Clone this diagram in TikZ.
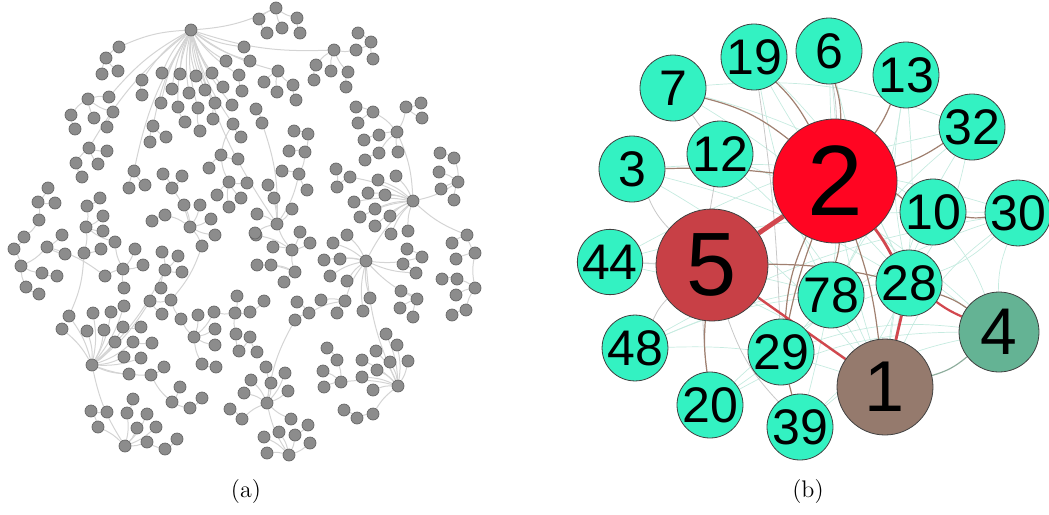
\documentclass[tikz,border=0pt]{standalone}
\usepackage{fontspec}
\newfontfamily\lab{Liberation Sans}
\pgfdeclarelayer{bg}
\pgfsetlayers{bg,main}
\definecolor{gfill}{HTML}{8C8C8C}
\definecolor{gline}{HTML}{666666}
\definecolor{gedge}{HTML}{D4D4D4}
\definecolor{tq}{HTML}{33F2C2}
\definecolor{rednode}{HTML}{FF0522}
\definecolor{fivenode}{HTML}{C84046}
\definecolor{onenode}{HTML}{957A6D}
\definecolor{fournode}{HTML}{64B394}
\definecolor{brn}{HTML}{A08070}
\definecolor{redge}{HTML}{D2474E}
\definecolor{cyedge}{HTML}{C6EBE0}
\definecolor{gyedge}{HTML}{C8C8C8}
\definecolor{gnedge}{HTML}{8FAE9E}
\tikzset{
  gn/.style={circle,fill=gfill,draw=gline,line width=0.35pt,inner sep=0pt,minimum size=6pt},
  ge/.style={draw=gedge,line width=0.5pt},
  tqn/.style={circle,fill=tq,draw=black!75,line width=0.4pt,inner sep=0pt,minimum size=33pt,font=\lab\fontsize{25}{25}\selectfont},
  bign/.style={circle,draw=black!75,line width=0.4pt,inner sep=0pt},
  be/.style={draw=brn,line width=0.6pt},
  re/.style={draw=redge},
  ce/.style={draw=cyedge,line width=0.35pt},
  ye/.style={draw=gyedge,line width=0.4pt},
  captext/.style={font=\fontsize{12}{14}\selectfont},
}
\begin{document}
\begin{tikzpicture}[x=0.5pt,y=-0.5pt]
\useasboundingbox (0,0) rectangle (1049,514);
% ---------------- panel (a) ----------------
\foreach \i/\x/\y in {1/191/30,2/413/201,3/366/261,4/92/365,
5/119/47,6/106/58,7/102/74,8/118/71,9/142/80,10/142/95,11/162/73,12/180/74,13/196/76,14/212/73,15/226/61,16/244/47,17/250/61,18/239/75,19/223/87,20/242/91,
21/172/89,22/189/93,23/205/90,24/215/103,25/232/105,26/161/103,27/178/107,28/198/108,29/213/119,30/185/122,31/200/131,32/233/124,33/241/137,34/153/126,35/166/137,36/150/142,
37/109/97,38/88/99,39/71/115,40/94/118,41/113/112,42/75/129,43/107/127,44/89/148,45/107/151,46/76/163,47/98/164,48/82/177,49/134/171,50/129/188,51/145/185,52/163/174,53/172/188,54/182/176,
55/221/155,56/238/159,57/209/168,58/229/182,59/247/183,60/217/195,61/241/198,62/229/207,63/48/188,64/38/202,65/55/203,66/39/220,67/24/237,68/14/249,69/62/235,70/47/247,71/21/266,72/65/254,73/42/273,74/57/276,75/26/287,76/39/294,
77/87/206,78/100/198,79/86/227,80/103/216,81/103/231,82/84/253,83/101/249,84/115/242,85/123/269,86/135/249,87/143/265,88/124/288,89/105/276,90/165/270,91/162/252,92/178/256,93/182/272,
94/190/227,95/184/205,96/200/205,97/165/215,98/152/221,99/202/246,100/211/219,101/215/235,102/161/288,103/69/316,104/150/301,105/171/300,106/162/314,107/124/306,108/111/312,109/93/313,110/62/329,
111/87/331,112/104/330,113/123/327,114/141/327,115/115/342,116/133/342,117/152/343,118/124/357,119/141/358,120/129/374,121/151/375,122/164/367,123/180/387,124/172/402,125/190/408,126/202/398,
127/181/319,128/194/337,129/198/315,130/214/312,131/215/329,132/215/345,133/202/364,134/216/367,135/237/296,136/235/313,137/250/312,138/236/334,139/239/351,140/250/337,
141/251/380,142/244/393,143/267/403,144/230/409,145/242/419,146/266/367,147/285/373,149/271/383,150/288/391,151/291/419,152/125/446,153/133/399,154/91/411,155/127/413,156/107/412,157/98/427,158/137/428,159/147/414,160/156/427,
161/147/442,162/165/449,163/177/439,164/289/455,165/264/437,166/279/432,167/295/435,168/310/443,169/267/453,170/308/425,
171/256/235,172/273/247,173/292/250,174/300/232,175/310/243,176/277/224,177/257/265,178/271/265,179/295/272,180/284/282,181/324/260,182/340/259,183/333/243,184/347/235,185/330/276,186/347/281,187/391/234,188/408/231,
190/407/249,191/422/257,192/403/264,193/416/273,194/401/291,195/417/299,196/400/308,197/413/317,198/321/300,199/345/301,200/370/298,201/337/313,202/363/311,203/297/302,204/309/313,205/295/320,206/264/301,209/257/352,
210/467/235,211/452/243,212/475/253,213/456/259,214/442/279,215/457/279,216/475/288,217/456/295,218/466/310,219/452/315,
220/386/334,221/397/345,222/327/348,223/398/386,224/337/360,225/362/360,226/376/351,227/390/362,228/408/361,229/323/371,230/341/382,231/362/377,232/377/370,233/324/387,234/373/390,235/344/410,236/357/418,237/373/414,
238/276/8,239/259/19,240/297/18,241/282/28,242/267/33,243/300/33,244/334/50,245/358/33,246/371/42,247/356/50,248/373/59,249/316/65,250/314/80,251/331/71,252/348/72,253/346/87,
254/278/71,255/264/82,256/277/92,257/293/85,258/296/100,259/256/109,260/262/123,261/294/131,262/308/134,263/289/151,264/305/152,265/282/171,266/299/174,267/307/190,268/268/185,269/274/198,270/292/209,271/257/214,272/255/233,
274/356/107,275/373/112,276/358/123,277/406/107,278/397/132,279/421/103,280/422/118,281/379/135,282/364/140,283/379/153,284/398/152,285/365/160,286/336/169,287/350/177,288/337/187,289/378/180,290/396/176,
291/368/193,292/385/195,293/354/202,294/375/209,295/390/216,296/360/217,297/375/226,300/440/153,301/454/158,302/439/172,303/458/182,304/441/189,305/454/200}
  \node[gn] (a\i) at (\x,\y) {};
\begin{pgfonlayer}{bg}
\foreach \c/\p in {5/1,6/5,7/6,8/6,9/1,10/9,11/1,12/1,13/1,14/1,15/1,16/1,17/1,18/1,19/1,20/18,21/1,22/1,23/1,24/1,25/1,26/1,27/1,28/1,29/24,30/27,31/28,32/1,33/32,34/1,35/34,36/34,37/1,38/37,39/38,40/38,41/38,42/39,43/41,44/1,45/44,46/44,47/44,48/46,49/1,50/49,51/49,52/53,53/94,54/53,55/32,56/55,57/55,58/55,59/58,60/58,61/58,62/58,63/64,64/66,65/64,66/67,67/68,68/71,69/70,70/71,72/70,73/71,74/73,75/71,76/75,77/79,78/77,79/82,80/79,81/79,82/103,83/82,84/79,85/84,86/85,87/85,88/85,89/85,70/89,90/4,91/90,92/90,93/90,102/90,94/99,95/94,96/94,97/94,98/97,100/94,101/94,99/105,103/4,104/4,105/104,106/104,107/4,108/4,109/4,110/4,111/4,112/4,113/4,114/113,115/4,116/4,117/116,118/4,119/4,120/4,121/4,122/121,123/124,124/121,125/124,126/125,127/105,128/127,129/128,130/128,131/128,132/128,133/128,134/133,135/136,136/130,137/136,138/136,139/138,140/139,141/143,142/143,143/205,144/145,145/143,146/143,147/143,149/143,150/143,151/143,152/4,153/155,154/157,155/152,156/154,157/152,158/152,159/152,160/152,161/152,162/161,163/162,164/143,165/164,166/164,167/164,168/164,169/164,170/167,171/173,172/173,173/176,174/173,175/173,176/1,177/179,178/179,179/173,180/179,181/3,182/3,183/3,184/3,185/3,186/3,187/2,188/2,190/191,191/3,192/193,193/3,194/195,195/3,196/195,197/195,198/199,199/3,200/3,201/199,202/3,203/204,204/199,205/204,206/137,209/140,210/2,211/210,212/210,213/212,216/212,215/216,214/215,217/216,218/216,219/218,220/223,221/223,222/224,223/3,224/230,225/223,226/223,227/223,228/223,229/230,230/223,231/223,232/223,233/230,234/223,235/236,236/237,237/223,238/1,239/238,240/238,241/238,242/239,243/240,244/1,245/246,246/247,247/244,248/246,249/244,250/249,251/244,252/244,253/252,254/1,255/254,256/254,257/254,258/257,259/260,260/176,261/262,262/264,263/264,264/266,265/266,266/176,267/266,268/176,269/176,270/176,271/176,272/176,274/275,275/278,276/275,277/278,278/2,279/277,280/277,281/278,282/281,283/278,284/278,285/283,286/288,287/2,288/287,289/2,290/2,291/2,292/2,293/2,294/2,295/2,296/2,297/2,300/301,301/303,302/303,303/2,304/303,305/303,3/2}
  \draw[ge] (a\c) to[bend left=10] (a\p);
\end{pgfonlayer}
\node[captext] (capa) at (246,492) {(a)};
% ---------------- panel (b) ----------------
\node[tqn] (b7) at (673,88) {7};
\node[tqn] (b19) at (754,57) {19};
\node[tqn] (b6) at (829,51) {6};
\node[tqn] (b13) at (906,75) {13};
\node[tqn] (b32) at (972,127) {32};
\node[tqn] (b12) at (720,154) {12};
\node[tqn] (b3) at (632,169) {3};
\node[bign,fill=rednode,minimum size=62pt,font=\lab\fontsize{50}{50}\selectfont] (b2) at (835,181) {2};
\node[tqn] (b10) at (933,212) {10};
\node[tqn,minimum size=32pt] (b30) at (1018,213) {30};
\node[bign,fill=fivenode,minimum size=56pt,font=\lab\fontsize{45}{45}\selectfont] (b5) at (712,265) {5};
\node[tqn,minimum size=32pt] (b44) at (610,262) {44};
\node[tqn,minimum size=32pt] (b48) at (635,348) {48};
\node[tqn] (b20) at (710,405) {20};
\node[tqn] (b29) at (781,352) {29};
\node[tqn] (b39) at (800,427) {39};
\node[tqn] (b78) at (831,295) {78};
\node[tqn] (b28) at (909,283) {28};
\node[bign,fill=fournode,minimum size=40pt,font=\lab\fontsize{33}{33}\selectfont] (b4) at (999,332) {4};
\node[bign,fill=onenode,minimum size=48pt,font=\lab\fontsize{36}{36}\selectfont] (b1) at (885,387) {1};
\begin{pgfonlayer}{bg}
% faint cyan arcs
\foreach \u/\v/\b in {b7/b32/12,b3/b30/10,b44/b30/8,b48/b28/10,b20/b28/12,b19/b1/-10,b6/b1/-8,b13/b1/8,b12/b4/10,b44/b1/12,b48/b1/10,b29/b30/12,b39/b4/14,b10/b1/-10,b30/b1/-14,b32/b1/-12,b6/b39/10,b3/b28/8,b7/b10/10,b19/b4/-12,b13/b78/10,b44/b32/8,b48/b30/10,b20/b4/14,b12/b1/12,b3/b1/10,b7/b28/8,b32/b78/-10,b30/b4/-10,b10/b4/8,b13/b28/-10,b32/b28/10,b30/b28/12,b6/b28/-6,b19/b28/10,b29/b4/12,b39/b28/-10,b44/b78/6,b48/b78/8,b20/b78/-8}
  \draw[ce] (\u) to[bend left=\b] (\v);
% grey edges
\draw[ye] (b7) -- (b12);
\draw[ye] (b3) to[bend right=10] (b5);
\draw[ye] (b48) to[bend left=10] (b5);
\draw[ye] (b44) -- (b5);
\draw[ye] (b39) to[bend left=12] (b5);
\draw[ye] (b12) to[bend right=8] (b20);
\draw[ye] (b19) to[bend left=3] (b29);
\draw[ye] (b6) to[bend left=4] (b2);
% brown edges
\draw[be] (b7) to[bend left=12] (b2);
\draw[be] (b19) to[bend left=8] (b2);
\draw[be] (b6) to[bend left=8] (b2);
\draw[be] (b13) to[bend left=6] (b2);
\draw[be] (b32) to[bend left=8] (b2);
\draw[be] (b3) to[bend left=4] (b2);
\draw[be] (b10) to[bend right=6] (b2);
\draw[be] (b20) to[bend left=6] (b5);
\draw[be] (b29) to[bend left=4] (b2);
\draw[be] (b29) to[bend left=10] (b2);
\draw[be] (b39) -- (b29);
\draw[be] (b78) to[bend right=6] (b2);
\draw[be] (b5) to[bend left=6] (b28);
\draw[be] (b28) to[bend left=8] (b4);
\draw[be] (b10) to[bend right=8] (b30);
\draw[be] (b2) to[bend left=6] (b1);
% red edges
\draw[re,line width=2.4pt] (b5) -- (b2);
\draw[re,line width=1.4pt] (b2) to[bend left=4] (b28);
\draw[re,line width=1.2pt] (b5) -- (b1);
\draw[re,line width=1.4pt] (b28) -- (b1);
\draw[re,line width=1.1pt] (b28) to[bend right=6] (b4);
\draw[draw=gnedge,line width=0.6pt] (b1) to[bend right=12] (b4);
\end{pgfonlayer}
\node[captext] (capb) at (808,492) {(b)};
\end{tikzpicture}
\end{document}
